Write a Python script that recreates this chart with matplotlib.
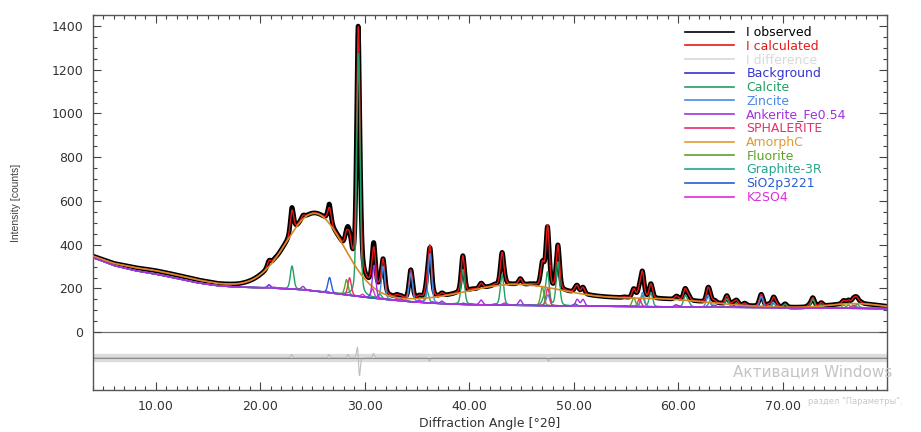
#!/usr/bin/python
# -*- coding: utf-8 -*-
import numpy as np
import matplotlib
matplotlib.use('Agg')
import matplotlib.pyplot as plt
from matplotlib.lines import Line2D
from matplotlib.ticker import MultipleLocator, FixedLocator, FormatStrFormatter

# tło, 2theta -> counts
bg_x = [4, 6, 8, 10, 12, 14, 16, 18, 20, 22, 24, 26, 28, 30, 32, 34, 36, 38, 40, 44, 50, 56, 62, 68, 74, 80]
bg_y = [342, 305, 282, 266, 246, 226, 212, 206, 204, 200, 195, 184, 172, 160, 150, 141, 134, 129, 126, 123, 120, 117, 115, 113, 110, 108]

# amorficzne garby (AmorphC): pozycja, wysokosc, szerokosc (sigma)
amorph_pos = [11.0, 25.3, 44.5, 58.0, 77.0]
amorph_h = [16, 355, 95, 35, 22]
amorph_sig = [5.0, 2.75, 5.0, 5.0, 2.5]

# piki faz: pozycje 2theta i wysokosci nad tlem
calcite_pos = [23.05, 29.40, 31.45, 35.97, 39.40, 43.15, 47.12, 47.50, 48.50, 56.57, 57.40, 60.68, 61.00, 63.05, 64.67, 65.60, 69.20, 70.25, 72.90, 73.70, 76.30, 77.15]
calcite_h = [105, 1110, 20, 55, 160, 140, 25, 150, 200, 50, 65, 50, 20, 25, 38, 20, 20, 15, 40, 15, 15, 20]
zincite_pos = [31.77, 34.42, 36.25, 47.54, 56.60, 62.86, 66.38, 67.96, 69.10, 72.56, 76.95]
zincite_h = [150, 130, 225, 50, 65, 55, 10, 50, 25, 8, 15]
ankerite_pos = [20.85, 24.10, 30.90, 33.45, 35.25, 37.40, 41.15, 44.90, 50.35, 50.90, 59.80, 63.50, 65.30]
ankerite_h = [15, 15, 150, 8, 10, 12, 22, 25, 30, 30, 10, 10, 8]
sphalerite_pos = [28.56, 33.09, 47.52, 56.30, 69.45, 76.75]
sphalerite_h = [80, 10, 80, 35, 10, 15]
fluorite_pos = [28.27, 47.00, 55.76, 68.68, 75.85]
fluorite_h = [70, 85, 40, 10, 15]
graphite_pos = [26.40, 43.30, 46.20, 77.50]
graphite_h = [6, 8, 4, 6]
sio2_pos = [20.86, 26.64, 36.54, 39.46, 40.29, 42.45, 45.79, 50.14, 54.87, 59.96, 67.74, 68.14]
sio2_h = [12, 70, 6, 6, 3, 5, 3, 10, 3, 7, 4, 6]
k2so4_pos = [21.35, 29.80, 30.75, 43.40]
k2so4_h = [5, 12, 42, 10]

# niedopasowanie obs - calc w miejscach pikow
misfit_pos = [23.00, 26.60, 28.40, 29.32, 29.50, 30.85, 36.20, 47.60]
misfit_h = [15, 15, 15, 60, -90, 20, -15, -15]

legend_labels = ['I observed', 'I calculated', 'I difference', 'Background', 'Calcite', 'Zincite',
                 'Ankerite_Fe0.54', 'SPHALERITE', 'AmorphC', 'Fluorite', 'Graphite-3R', 'SiO2p3221', 'K2SO4']
legend_colors = ['#000000', '#e81818', '#d8d8d8', '#3434d0', '#22a063', '#4a8ae6', '#a032e0',
                 '#e6306a', '#e09a30', '#5ea22a', '#26a68c', '#2a5cd6', '#e02ae0']

DIFF_OFFSET = -117


def pv(x, pos, h, w=0.38, eta=0.3):
    # pseudo-Voigt
    d = (x - pos) / w
    return h * ((1 - eta) * np.exp(-4 * np.log(2) * d ** 2) + eta / (1 + 4 * d ** 2))


def phase(x, pos, h, w=0.38):
    out = np.zeros_like(x)
    for p, hh in zip(pos, h):
        out += pv(x, p, hh, w)
    return out


x = np.arange(4.0, 80.0001, 0.01)
bg = np.interp(x, bg_x, bg_y)
amorph = np.zeros_like(x)
for p, hh, s in zip(amorph_pos, amorph_h, amorph_sig):
    amorph += hh * np.exp(-(x - p) ** 2 / (2 * s ** 2))

phases = [
    ('Calcite', calcite_pos, calcite_h),
    ('Zincite', zincite_pos, zincite_h),
    ('Ankerite_Fe0.54', ankerite_pos, ankerite_h),
    ('SPHALERITE', sphalerite_pos, sphalerite_h),
    ('Fluorite', fluorite_pos, fluorite_h),
    ('Graphite-3R', graphite_pos, graphite_h),
    ('SiO2p3221', sio2_pos, sio2_h),
    ('K2SO4', k2so4_pos, k2so4_h),
]
col = dict(zip(legend_labels, legend_colors))

peaks = {}
for name, pos, h in phases:
    peaks[name] = phase(x, pos, h)

calc = bg + amorph + sum(peaks.values())
obs = calc + phase(x, misfit_pos, misfit_h, w=0.2)
diff = obs - calc

fig = plt.figure(figsize=(9.21, 4.32), dpi=100)
ax = fig.add_axes([93 / 921, 1 - 390 / 432, (887 - 93) / 921, (390 - 15) / 432])

ax.axhline(0, color='#707070', lw=0.9, zorder=1)
ax.axhline(DIFF_OFFSET, color='#dcdcdc', lw=6, zorder=1)
ax.plot(x, diff + DIFF_OFFSET, color='#bdbdbd', lw=0.8, zorder=1.2)
ax.axhline(DIFF_OFFSET, color='#8c8c8c', lw=0.8, zorder=1.3)

ax.plot(x, obs, color='black', lw=3.4, zorder=2)
ax.plot(x, calc, color=col['I calculated'], lw=1.0, zorder=2.5)
ax.plot(x, bg, color=col['Background'], lw=1.0, zorder=2.6)
for name, pos, h in phases:
    z = 3.5 if name.startswith('Ankerite') else 3
    ax.plot(x, bg + peaks[name], color=col[name], lw=1.0, zorder=z)
ax.plot(x, bg + amorph, color='#d98a26', lw=1.2, zorder=3.2)

ax.set_xlim(4, 80)
ax.set_ylim(-264, 1450)
ax.xaxis.set_major_locator(FixedLocator(range(10, 71, 10)))
ax.xaxis.set_minor_locator(MultipleLocator(1))
ax.xaxis.set_major_formatter(FormatStrFormatter('%.2f'))
ax.yaxis.set_major_locator(FixedLocator(range(0, 1401, 200)))
ax.yaxis.set_minor_locator(FixedLocator(range(0, 1451, 50)))
ax.tick_params(which='both', direction='in', top=True, right=True, labelsize=9,
               labelcolor='#333333', color='#444444', pad=7)
ax.tick_params(which='major', length=6, width=0.8)
ax.tick_params(which='minor', length=3, width=0.8)
for s in ax.spines.values():
    s.set_color('#555555')
    s.set_linewidth(1.0)

ax.set_xlabel('Diffraction Angle [°2θ]', fontsize=9, color='#333333', labelpad=3)
ax.set_ylabel('Intensity [counts]', fontsize=7.5, color='#404040', family='Liberation Sans', labelpad=22)

handles = [Line2D([], [], color=c, lw=1.2) for c in legend_colors]
leg = fig.legend(handles, legend_labels, loc='upper left', bbox_to_anchor=(685 / 921, 1 - 26 / 432),
                 frameon=False, fontsize=9, handlelength=3.9, handletextpad=1.0,
                 labelspacing=0.06, borderaxespad=0, borderpad=0)
for t, c in zip(leg.get_texts(), legend_colors):
    t.set_color(c)

# znak wodny z oryginalnego zrzutu ekranu
fig.text(733 / 921, 1 - 372 / 432, 'Активация Windows', fontsize=11, color='#c4c4c4', va='center', zorder=10)
fig.text(808 / 921, 1 - 401 / 432, 'раздел "Параметры".', fontsize=6, color='#c8c8c8', va='center', zorder=10)

plt.savefig('out.png', dpi=100)
